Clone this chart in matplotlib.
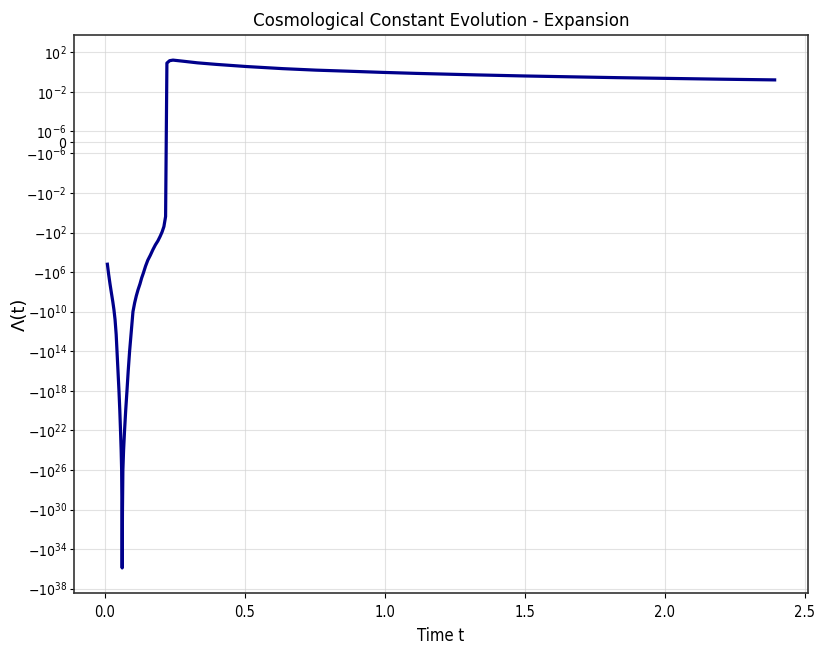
import matplotlib
matplotlib.use("Agg")
import matplotlib.pyplot as plt
from matplotlib.ticker import NullLocator, FixedLocator

plt.rcParams['font.family'] = ['DejaVu Sans']
plt.rcParams['font.stretch'] = 'condensed'

# Time samples and Λ(t) values
t_neg = [0.0086, 0.013, 0.018, 0.023, 0.028, 0.032, 0.036, 0.040, 0.043, 0.0465,
         0.050, 0.053, 0.0555, 0.0578, 0.0595, 0.0607, 0.0615,
         0.0625, 0.064, 0.0665, 0.070, 0.074, 0.0786, 0.083, 0.088, 0.094, 0.100,
         0.106, 0.112, 0.118, 0.125, 0.131, 0.137, 0.145, 0.153, 0.162, 0.171,
         0.180, 0.189, 0.197, 0.204, 0.2106, 0.2166]
lam_neg = [-1.6e5, -1.6e6, -1.6e7, -1.3e8, -1.0e9, -6.3e9, -6.3e10, -2.0e12, -1e14, -1e16,
           -1e18, -1e20, -1e22, -1e24, -1e26, -1e30, -8e35,
           -1e30, -1e26, -1e24, -1e22, -1e20, -1e18, -1e16, -1e14, -1e12, -1e10,
           -1.3e9, -2.5e8, -6.3e7, -1.6e7, -4.0e6, -1.3e6, -2.5e5, -6.3e4, -2.0e4, -5.6e3,
           -1.8e3, -7.1e2, -2.5e2, -89.0, -25.0, -2.4]

t_pos = [0.2213, 0.231, 0.243, 0.278, 0.33, 0.398, 0.505, 0.635, 0.754, 0.873,
         0.992, 1.111, 1.230, 1.330, 1.498, 1.658, 1.83, 1.997, 2.193, 2.393]
lam_pos = [8.0, 14.0, 16.0, 12.5, 8.5, 5.9, 3.6, 2.2, 1.55, 1.2,
           0.92, 0.73, 0.60, 0.51, 0.40, 0.33, 0.27, 0.23, 0.19, 0.16]

t = t_neg + t_pos
lam = lam_neg + lam_pos

y_ticks = [1e2, 1e-2, 1e-6, 0, -1e-6, -1e-2, -1e2, -1e6, -1e10, -1e14, -1e18,
           -1e22, -1e26, -1e30, -1e34, -1e38]
x_ticks = [0.0, 0.5, 1.0, 1.5, 2.0, 2.5]

title = "Cosmological Constant Evolution - Expansion"
xlabel = "Time t"
ylabel = "Λ(t)"

fig = plt.figure(figsize=(8.17, 6.49), dpi=100)
ax = fig.add_axes([0.0906, 0.0858, 0.8984, 0.8607])
ax.plot(t, lam, color='#00008B', lw=2.3, solid_joinstyle='round')
ax.set_yscale('symlog', linthresh=1e-6)
ax.yaxis.set_major_locator(FixedLocator(y_ticks))
ax.yaxis.set_minor_locator(NullLocator())
ax.set_xticks(x_ticks)
ax.grid(True, color='#d0d0d0', alpha=0.6, lw=0.8)
ax.set_title(title, fontsize=13.3)
ax.set_xlabel(xlabel, fontsize=12, labelpad=5)
ax.set_ylabel(ylabel, fontsize=13, stretch='normal')
ax.yaxis.set_label_coords(-0.062, 0.5)
ax.tick_params(axis='y', labelsize=10, length=2.8, pad=2.5)
ax.tick_params(axis='x', labelsize=10.5, length=3.5, pad=5)
for s in ax.spines.values():
    s.set_color('#333333')
    s.set_linewidth(1.2)

fig.savefig("out.png", dpi=100)
